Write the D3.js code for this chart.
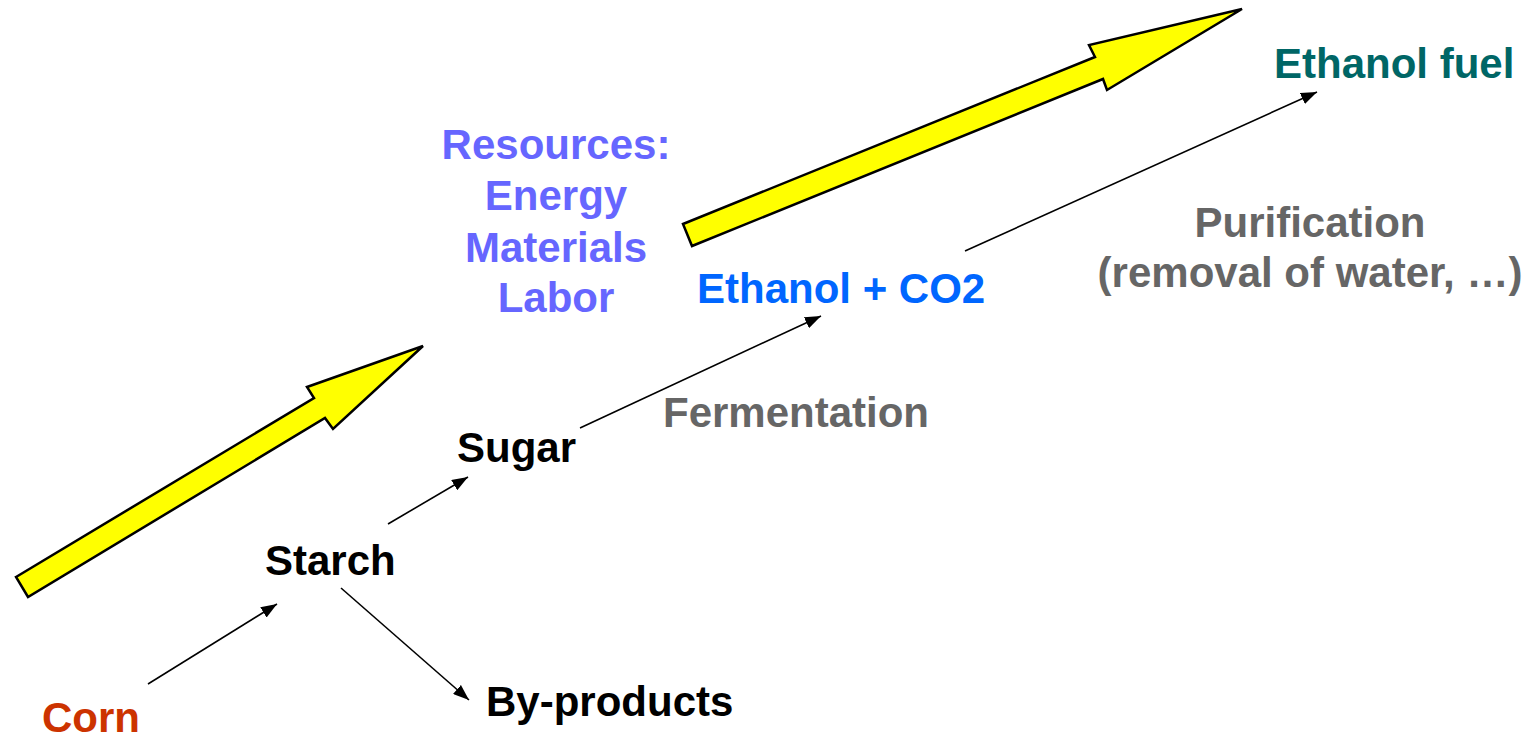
<!DOCTYPE html>
<html>
<head>
<meta charset="utf-8">
<script src="https://cdn.jsdelivr.net/npm/d3@7"></script>
<style>
  html, body { margin:0; padding:0; background:#fff; overflow:hidden; }
</style>
</head>
<body>
<div id="flow"></div>
<script>
// labels of the process steps, with their anchor point (diagram units) and colour
let labels = ["Corn", "Starch", "By-products", "Sugar", "Fermentation",
              "Ethanol + CO2", "Purification", "(removal of water, \u2026)", "Ethanol fuel",
              "Resources:", "Energy", "Materials", "Labor"],
    labelX = [42, 265, 486, 457, 663, 697, 1310, 1310, 1274, 556, 556, 556, 556],
    labelY = [732, 575, 716, 462, 427, 303, 237, 287, 78, 159, 210, 262, 312],
    labelAnchor = ["start","start","start","start","start","start","middle","middle","start",
                   "middle","middle","middle","middle"],
    labelColor = ["#cc3300","#000","#000","#000","#666666","#0066ff","#666666","#666666","#006666",
                  "#6666ff","#6666ff","#6666ff","#6666ff"];

// thin arrows: from -> to
let flowFrom = [[148,684],[341,588],[388,524],[580,428],[965,251]],
    flowTo   = [[277,604],[469,700],[468,477],[821,316],[1317,92]];

// big yellow arrows, outline points
let bigArrows = [
  [[16,577],[314,398],[307,387],[423,346],[333,429],[325,418],[28,597]],
  [[683,224],[1095,57],[1089,45],[1242,9],[1107,90],[1103,79],[692,246]]
];

let width = 1535,
    height = 741;

let xScale = d3.scaleLinear().domain([0,1535]).range([0,width]),
    yScale = d3.scaleLinear().domain([0,741]).range([0,height]);

let svg = d3.select("#flow").append("svg")
            .attr("width", width)
            .attr("height", height)
            .style("display","block");

svg.append("defs").append("marker")
   .attr("id","head")
   .attr("viewBox","0 0 16 12")
   .attr("refX",16)
   .attr("refY",6)
   .attr("markerWidth",16)
   .attr("markerHeight",12)
   .attr("markerUnits","userSpaceOnUse")
   .attr("orient","auto")
   .append("path")
   .attr("d","M0,0L16,6L0,12Z")
   .attr("fill","#000");

let line = d3.line()
             .x(function(p){ return xScale(p[0]) })
             .y(function(p){ return yScale(p[1]) });

svg.append("g").selectAll("path").data(bigArrows)
   .enter().append("path")
   .attr("d", function(d){ return line(d) + "Z" })
   .attr("fill","#ffff00")
   .attr("stroke","#000")
   .attr("stroke-width",2.5)
   .attr("stroke-linejoin","miter");

svg.append("g").selectAll("path").data(flowFrom)
   .enter().append("path")
   .attr("d", function(d,i){ return line([d, flowTo[i]]) })
   .attr("stroke","#000")
   .attr("stroke-width",1.6)
   .attr("fill","none")
   .attr("marker-end","url(#head)");

svg.append("g").selectAll("text").data(labels)
   .enter().append("text")
   .attr("x", function(d,i){ return xScale(labelX[i]) })
   .attr("y", function(d,i){ return yScale(labelY[i]) })
   .attr("text-anchor", function(d,i){ return labelAnchor[i] })
   .attr("fill", function(d,i){ return labelColor[i] })
   .style("font-family","'Liberation Sans', Arial, sans-serif")
   .style("font-weight","bold")
   .style("font-size","42px")
   .text(function(d){ return d });
</script>
</body>
</html>
